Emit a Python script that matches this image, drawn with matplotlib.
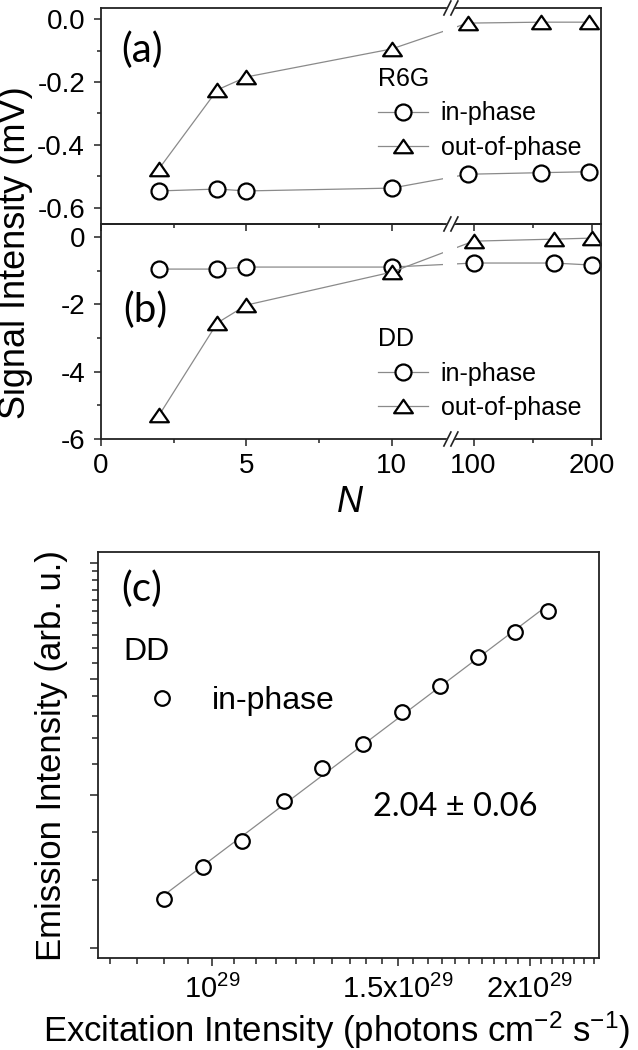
import numpy as np
import matplotlib.pyplot as plt
from matplotlib.path import Path
from matplotlib.ticker import FixedLocator, FixedFormatter, NullFormatter

plt.rcParams['font.family'] = ['Liberation Sans', 'DejaVu Sans']
plt.rcParams['axes.unicode_minus'] = False
plt.rcParams['mathtext.fontset'] = 'custom'
plt.rcParams['mathtext.rm'] = 'Liberation Sans'
plt.rcParams['mathtext.it'] = 'Liberation Sans:italic'
plt.rcParams['mathtext.default'] = 'regular'

# ---------------------------------------------------------------
#  data
# ---------------------------------------------------------------
# (a) R6G : signal intensity (mV) vs N
n_r6g = [2, 4, 5, 10, 95, 157, 198]
r6g_in = [-0.546, -0.540, -0.546, -0.537, -0.493, -0.488, -0.485]
r6g_out = [-0.475, -0.225, -0.184, -0.095, -0.013, -0.010, -0.010]

# (b) DD : signal intensity (mV) vs N
n_dd = [2, 4, 5, 10, 100, 168, 200]
dd_in = [-0.95, -0.95, -0.89, -0.89, -0.77, -0.77, -0.83]
dd_out = [-5.29, -2.55, -2.02, -1.04, -0.12, -0.06, -0.03]

# (c) DD in-phase emission vs excitation (x 1e29 photons cm-2 s-1)
exc = [0.901, 0.981, 1.068, 1.170, 1.271, 1.390, 1.513, 1.644, 1.786, 1.936, 2.080]
emis = [2.68, 3.25, 3.79, 4.82, 5.87, 6.78, 8.20, 9.58, 11.40, 13.24, 15.01]
slope_txt = '2.04 ± 0.06'

n_major = [0, 5, 10, 100, 200]
n_major_lbl = ['0', '5', '10', '100', '200']
n_minor = [2.5, 7.5, 150]

a_ticks = [0.0, -0.2, -0.4, -0.6]
a_lbl = ['0.0', '-0.2', '-0.4', '-0.6']
a_minor = [-0.1, -0.3, -0.5]
b_ticks = [0, -2, -4, -6]
b_lbl = ['0', '-2', '-4', '-6']
b_minor = [-1, -3, -5]

exc_major = [1.0, 1.5, 2.0]
exc_lbl = [r'$10^{29}$', r'$1.5x10^{29}$', r'$2x10^{29}$']

# ---------------------------------------------------------------
#  style
# ---------------------------------------------------------------
W, H = 638, 1050
LINE_C = '#8a8a8a'
SPINE_C = '#222222'
TRI = Path([(0, 0.72), (-1, -0.72), (1, -0.72), (0, 0.72)],
           [Path.MOVETO, Path.LINETO, Path.LINETO, Path.CLOSEPOLY])
LABEL_FONT = ['Lato', 'DejaVu Sans']

# broken N axis: 0..12 linear, then 80..208 compressed
BRK_LO, BRK_HI, K = 12.0, 80.0, 0.0406
N_LIM = (0, 208)


def brk_fwd(x):
    x = np.asarray(x, dtype=float)
    return np.where(x <= BRK_LO, x,
                    np.where(x >= BRK_HI, BRK_LO + (x - BRK_HI) * K, BRK_LO))


def brk_inv(t):
    t = np.asarray(t, dtype=float)
    return np.where(t <= BRK_LO, t, BRK_HI + (t - BRK_LO) / K)


def box(l, t, r, b):
    return [l / W, 1 - b / H, (r - l) / W, (b - t) / H]


def style_spines(ax):
    for s in ax.spines.values():
        s.set_linewidth(1.3)
        s.set_color(SPINE_C)


def break_marks(ax, yfrac):
    bb = ax.get_position()
    wpx, hpx = bb.width * W, bb.height * H
    f0 = float((brk_fwd(BRK_LO) - brk_fwd(N_LIM[0])) /
               (brk_fwd(N_LIM[1]) - brk_fwd(N_LIM[0])))
    dx, dy, off = 3.5 / wpx, 7 / hpx, 3.5 / wpx
    x1, x2 = f0 - off + 1 / wpx, f0 + off + 1 / wpx
    ax.fill([x1 - dx, x1 + dx, x2 + dx, x2 - dx],
            [yfrac - dy, yfrac + dy, yfrac + dy, yfrac - dy],
            color='white', transform=ax.transAxes, clip_on=False, zorder=5)
    for xc in (x1, x2):
        ax.plot([xc - dx, xc + dx], [yfrac - dy, yfrac + dy], color=SPINE_C,
                lw=1.2, transform=ax.transAxes, clip_on=False, zorder=6)


def panel_ab(ax, n, y_in, y_out, title, ylim, ticks, lbls, minor, leg_xy):
    ax.set_xscale('function', functions=(brk_fwd, brk_inv))
    ax.plot(n, y_in, color=LINE_C, lw=0.9, marker='o', ms=11.5, mfc='white',
            mec='k', mew=1.6, label='in-phase')
    ax.plot(n, y_out, color=LINE_C, lw=0.9, marker=TRI, ms=13.5, mfc='white',
            mec='k', mew=1.6, label='out-of-phase')
    ax.axvspan(11.76, 86, color='white', lw=0, zorder=2.1)
    ax.set_xlim(*N_LIM)
    ax.set_ylim(*ylim)
    ax.xaxis.set_major_locator(FixedLocator(n_major))
    ax.xaxis.set_major_formatter(FixedFormatter(n_major_lbl))
    ax.xaxis.set_minor_locator(FixedLocator(n_minor))
    ax.xaxis.set_minor_formatter(NullFormatter())
    ax.yaxis.set_major_locator(FixedLocator(ticks))
    ax.yaxis.set_major_formatter(FixedFormatter(lbls))
    ax.yaxis.set_minor_locator(FixedLocator(minor))
    ax.tick_params(which='both', direction='out', width=1.1, color=SPINE_C,
                   top=False, right=False, labelsize=20)
    ax.tick_params(axis='x', pad=5)
    ax.tick_params(axis='y', pad=6.5)
    ax.tick_params(which='major', length=5)
    ax.tick_params(which='minor', length=3)
    style_spines(ax)
    ax.legend(title=title, loc='upper left', bbox_to_anchor=leg_xy,
              frameon=False, fontsize=18, title_fontsize=18, alignment='left',
              handlelength=2.0, handletextpad=0.5, labelspacing=0.42,
              borderpad=0, borderaxespad=0)


fig = plt.figure(figsize=(W / 100, H / 100), dpi=100)
ax_a = fig.add_axes(box(101, 8, 601, 224))
ax_b = fig.add_axes(box(101, 224, 601, 439))
ax_c = fig.add_axes(box(98, 552, 599, 958))
ax_a.set_zorder(2)
ax_a.patch.set_alpha(0)

panel_ab(ax_a, n_r6g, r6g_in, r6g_out, 'R6G', (-0.651, 0.035),
         a_ticks, a_lbl, a_minor, (0.554, 0.728))
panel_ab(ax_b, n_dd, dd_in, dd_out, 'DD', (-6.0, 0.39),
         b_ticks, b_lbl, b_minor, (0.554, 0.52))
ax_a.tick_params(axis='x', labelbottom=False)

break_marks(ax_a, 1.0)
break_marks(ax_a, 0.0)
break_marks(ax_b, 0.0)

ax_a.text(0.082, 0.806, '(a)', transform=ax_a.transAxes, ha='center',
          va='center', fontsize=29, family=LABEL_FONT)
ax_b.text(0.088, 0.60, '(b)', transform=ax_b.transAxes, ha='center',
          va='center', fontsize=29, family=LABEL_FONT)

fig.text(16 / W, 1 - 253 / H, 'Signal Intensity (mV)', rotation=90,
         ha='center', va='center', fontsize=26)
fig.text(350 / W, 1 - 503 / H, 'N', style='italic', ha='center',
         va='center', fontsize=26)

# ---------------------------------------------------------------
#  (c) power dependence, log-log
# ---------------------------------------------------------------
x = np.array(exc) * 1e29
y = np.array(emis)
slope, icpt = np.polyfit(np.log10(x), np.log10(y), 1)
xf = np.array([x[0], x[-1]])
ax_c.plot(xf, 10 ** (icpt + slope * np.log10(xf)), color=LINE_C, lw=0.9,
          zorder=2)
ax_c.plot(x, y, ls='none', marker='o', ms=10.5, mfc='white', mec='k',
          mew=1.6, label='in-phase', zorder=3)
ax_c.set_xscale('log')
ax_c.set_yscale('log')
ax_c.set_xlim(0.7799e29, 2.3254e29)
ax_c.set_ylim(1.884, 21.34)

ax_c.xaxis.set_major_locator(FixedLocator(np.array(exc_major) * 1e29))
ax_c.xaxis.set_major_formatter(FixedFormatter(exc_lbl))
x_minor = [v * 1e29 for v in np.round(np.arange(0.80, 2.31, 0.05), 2)
           if v not in exc_major]
ax_c.xaxis.set_minor_locator(FixedLocator(x_minor))
ax_c.xaxis.set_minor_formatter(NullFormatter())
ax_c.yaxis.set_major_locator(FixedLocator([2, 5, 10, 20]))
ax_c.yaxis.set_major_formatter(NullFormatter())
ax_c.yaxis.set_minor_locator(FixedLocator(list(range(2, 21))))
ax_c.yaxis.set_minor_formatter(NullFormatter())
ax_c.tick_params(which='both', direction='out', width=1.1, color=SPINE_C,
                 top=False, right=False, labelsize=21, pad=6)
ax_c.tick_params(which='major', length=6)
ax_c.tick_params(which='minor', length=4)
style_spines(ax_c)

ax_c.legend(title='DD', loc='upper left', bbox_to_anchor=(0.05, 0.79),
            frameon=False, fontsize=23, title_fontsize=23, alignment='left',
            handlelength=2.44, handletextpad=0.35, labelspacing=0.58,
            borderpad=0, borderaxespad=0)
ax_c.text(0.088, 0.909, '(c)', transform=ax_c.transAxes, ha='center',
          va='center', fontsize=29, family=LABEL_FONT)
ax_c.text(0.714, 0.372, slope_txt, transform=ax_c.transAxes, ha='center',
          va='center', fontsize=23.5, family=LABEL_FONT)

fig.text(52 / W, 1 - 756 / H, 'Emission Intensity (arb. u.)', rotation=90,
         ha='center', va='center', fontsize=25)
fig.text(337 / W, 1 - 1030 / H,
         r'Excitation Intensity (photons cm$^{-2}$ s$^{-1}$)',
         ha='center', va='center', fontsize=25)

fig.savefig('out.png', dpi=100)
